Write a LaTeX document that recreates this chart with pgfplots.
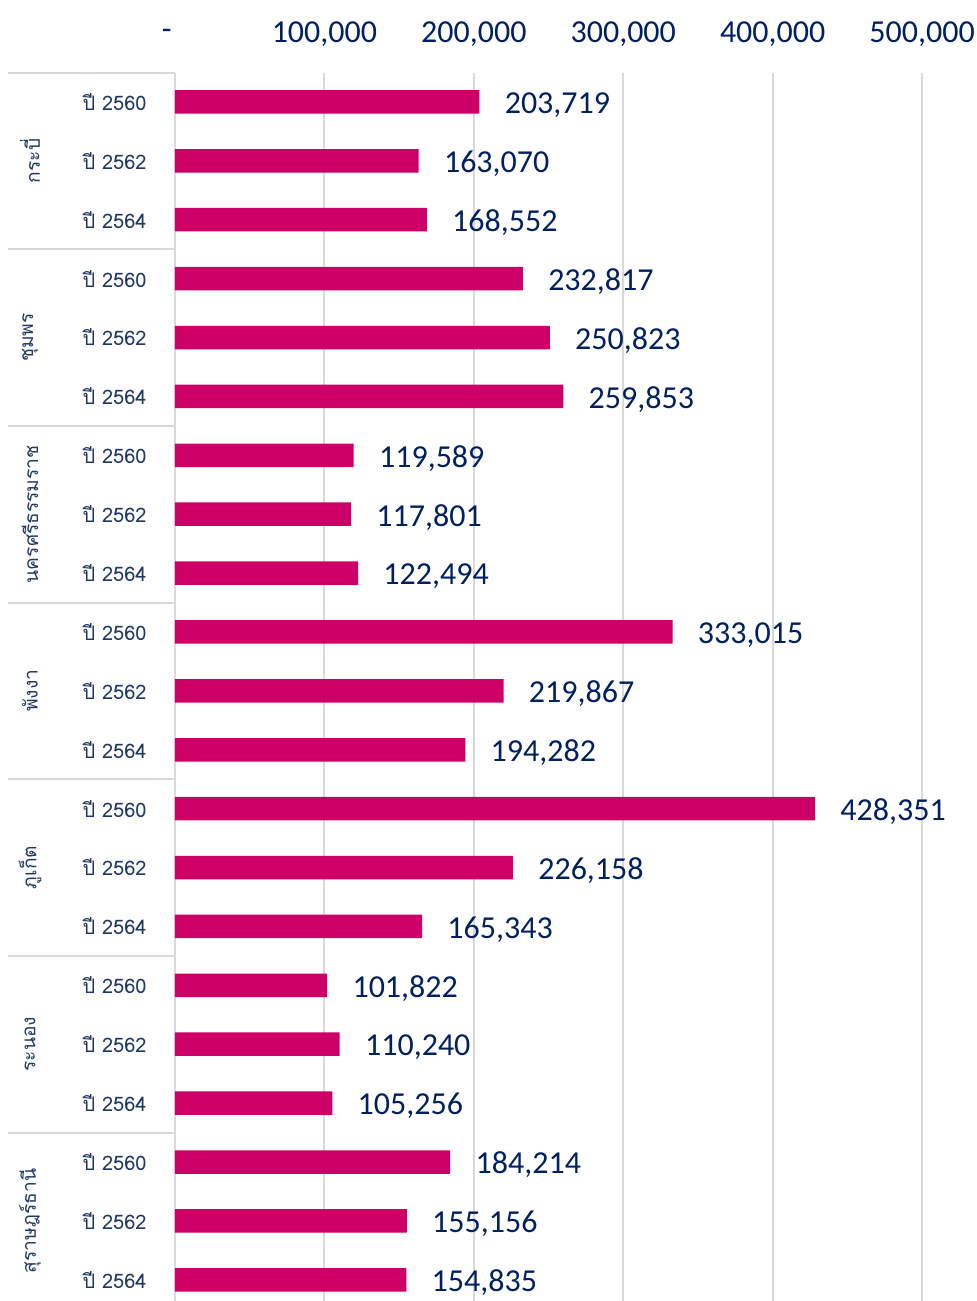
\documentclass[border=0pt]{standalone}
\usepackage{fontspec}
\setmainfont{Carlito}
\newfontfamily\thaifont[Script=Thai]{Loma}
\usepackage{pgfplots}
\pgfplotsset{compat=1.18}
\definecolor{barc}{RGB}{204,0,102}
\definecolor{navy}{RGB}{0,32,96}
\definecolor{tnavy}{RGB}{32,56,100}
\definecolor{gridc}{RGB}{217,217,217}
\tikzset{grp/.style={rotate=90, text=tnavy, font=\thaifont\fontsize{9.6}{12}\selectfont}}
\begin{document}
\begin{tikzpicture}
\useasboundingbox (-87.5pt,0pt) rectangle (400.5pt,650.5pt);
\begin{axis}[
  at={(0pt,0pt)}, anchor=south west,
  scale only axis,
  width=400.5pt, height=614.25pt,
  xbar, bar width=11.75pt,
  xmin=0, xmax=536100,
  ymin=0.5, ymax=21.36,
  y dir=reverse,
  clip=false,
  axis line style={draw=none},
  major tick length=0pt,
  xmajorgrids, grid style={gridc, line width=1pt},
  xtick={0,100000,200000,300000,400000,500000},
  xticklabels={{-\hphantom{0}},{100,000},{200,000},{300,000},{400,000},{500,000}},
  xticklabel pos=upper,
  xticklabel style={anchor=center, yshift=19pt, font=\fontsize{16}{18}\selectfont, text=navy},
  ytick={1,...,21},
  yticklabels={ปี 2560,ปี 2562,ปี 2564,ปี 2560,ปี 2562,ปี 2564,ปี 2560,ปี 2562,ปี 2564,ปี 2560,ปี 2562,ปี 2564,ปี 2560,ปี 2562,ปี 2564,ปี 2560,ปี 2562,ปี 2564,ปี 2560,ปี 2562,ปี 2564},
  yticklabel style={anchor=east, inner sep=0pt, xshift=-14pt, font=\thaifont\fontsize{10}{12}\selectfont, text=tnavy},
  nodes near coords={\pgfmathprintnumber[fixed, precision=0, 1000 sep={,}, assume math mode=true]{\pgfplotspointmeta}},
  nodes near coords style={anchor=west, inner sep=0pt, xshift=12.5pt, yshift=-1.5pt, font=\fontsize{16}{18}\selectfont, text=navy},
]
\addplot[fill=barc, draw=none] coordinates {
(203719,1) (163070,2) (168552,3)
(232817,4) (250823,5) (259853,6)
(119589,7) (117801,8) (122494,9)
(333015,10) (219867,11) (194282,12)
(428351,13) (226158,14) (165343,15)
(101822,16) (110240,17) (105256,18)
(184214,19) (155156,20) (154835,21)
};
\pgfplotsinvokeforeach{0.5,3.5,6.5,9.5,12.5,15.5,18.5}{
  \draw[gridc, line width=1pt] (axis cs:0,#1) -- ([xshift=-83.5pt]axis cs:0,#1);
}
\node[grp] at ([xshift=-72.5pt]axis cs:0,2) {กระบี่};
\node[grp] at ([xshift=-72.5pt]axis cs:0,5) {ชุมพร};
\node[grp] at ([xshift=-72.5pt]axis cs:0,8) {นครศรีธรรมราช};
\node[grp] at ([xshift=-72.5pt]axis cs:0,11) {พังงา};
\node[grp] at ([xshift=-72.5pt]axis cs:0,14) {ภูเก็ต};
\node[grp] at ([xshift=-72.5pt]axis cs:0,17) {ระนอง};
\node[grp] at ([xshift=-72.5pt]axis cs:0,20) {สุราษฎร์ธานี};
\end{axis}
\end{tikzpicture}
\end{document}
